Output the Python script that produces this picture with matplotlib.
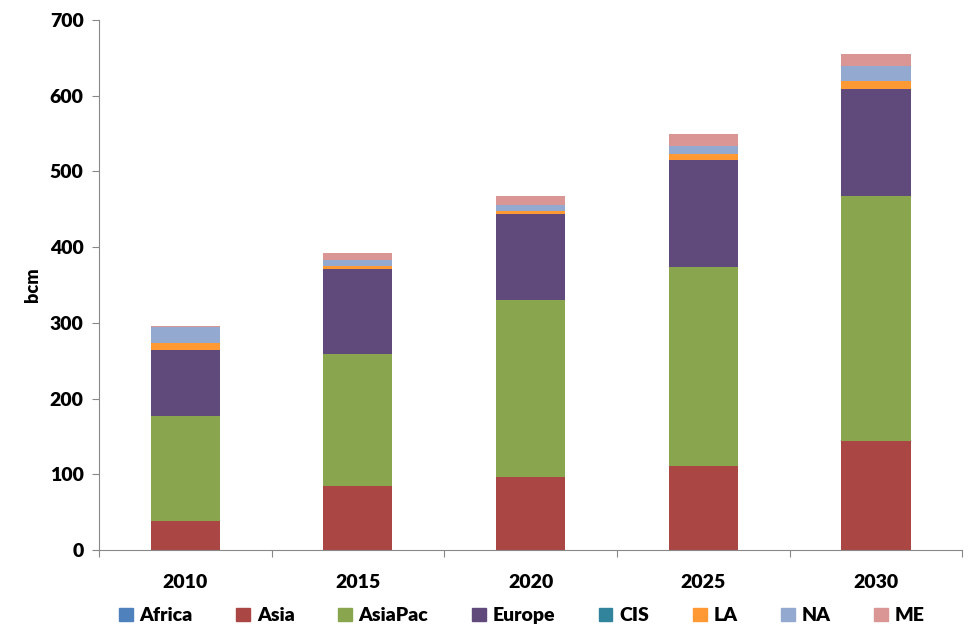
import matplotlib.pyplot as plt
from matplotlib.patches import Patch
import numpy as np

# data (bcm)
years = ['2010', '2015', '2020', '2025', '2030']
regions = ['Africa', 'Asia', 'AsiaPac', 'Europe', 'CIS', 'LA', 'NA', 'ME']
africa = [0, 0, 0, 0, 0]
asia = [38, 85, 96, 111, 144]
asiapac = [139, 174, 234, 263, 324]
europe = [87, 112, 114, 141, 141]
cis = [0, 0, 0, 0, 0]
la = [10, 4, 4, 8, 11]
na = [20, 8, 8, 10, 19]
me = [2, 9, 12, 16, 16]

colors = ['#4F81BD', '#AA4643', '#89A54E', '#604A7B',
          '#31849B', '#FF9933', '#93A9CF', '#D99694']

W = 'heavy'
plt.rcParams['font.family'] = ['Lato', 'DejaVu Sans']
plt.rcParams['font.weight'] = W

fig = plt.figure(figsize=(9.79, 6.42), dpi=100)
ax = fig.add_axes([0.101, 0.1433, 0.882, 0.8255])

x = np.arange(len(years))
bottom = np.zeros(len(years))
series = [africa, asia, asiapac, europe, cis, la, na, me]
for name, vals, c in zip(regions, series, colors):
    ax.bar(x, vals, width=0.4, bottom=bottom, color=c, label=name)
    bottom += np.array(vals)

ax.set_xlim(-0.5, len(years) - 0.5)
ax.set_ylim(0, 700)
ax.set_yticks(range(0, 701, 100))
ax.set_ylabel('bcm', fontsize=13, fontweight=W, labelpad=6)

# category labels in the middle, tick marks on the boundaries
ax.set_xticks(np.arange(-0.5, len(years), 1.0))
ax.set_xticklabels([])
ax.set_xticks(x, minor=True)
ax.set_xticklabels(years, minor=True, fontsize=14, fontweight=W)
ax.tick_params(axis='x', which='major', direction='out', length=5, color='#888888')
ax.tick_params(axis='x', which='minor', length=0, pad=17)
ax.tick_params(axis='y', direction='out', length=5, color='#888888', labelsize=14, pad=6)
for t in ax.get_yticklabels():
    t.set_fontweight(W)

for s in ['top', 'right']:
    ax.spines[s].set_visible(False)
for s in ['left', 'bottom']:
    ax.spines[s].set_color('#888888')

handles = [Patch(color=c, label=n) for n, c in zip(regions, colors)]
fig.legend(handles=handles, loc='center', bbox_to_anchor=(0.533, 0.041), ncol=8,
           frameon=False, handlelength=0.7, handleheight=0.7, handletextpad=0.35,
           columnspacing=2.25, prop={'size': 14, 'weight': W})

fig.savefig('out.png', dpi=100)
